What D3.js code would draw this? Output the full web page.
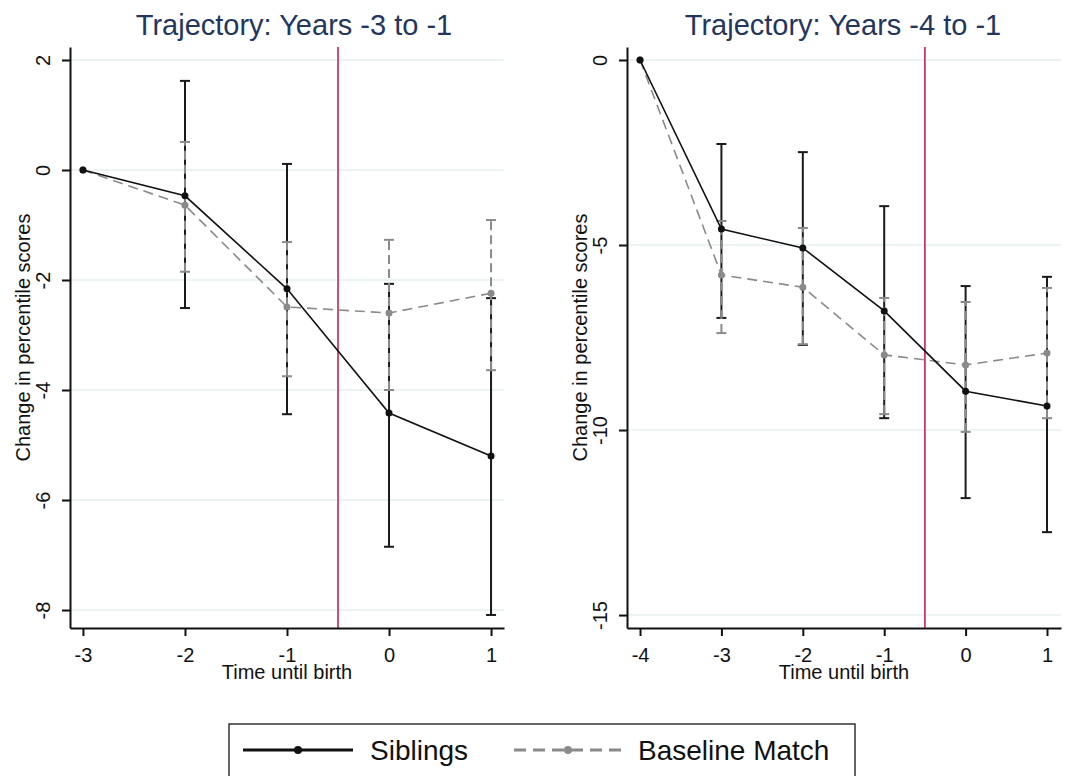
<!DOCTYPE html>
<html>
<head>
<meta charset="utf-8">
<script src="https://cdn.jsdelivr.net/npm/d3@7"></script>
<style>
body { margin: 0; background: #fff; }
text { font-family: "Liberation Sans", Arial, sans-serif; }
</style>
</head>
<body>
<div id="chart"></div>
<script>
// values (change in percentile scores)
var timesLeft = [-3, -2, -1, 0, 1];
var sibLeft = [0, -0.47, -2.16, -4.42, -5.2];
var sibLeftLo = [null, -2.51, -4.44, -6.85, -8.09];
var sibLeftHi = [null, 1.62, 0.11, -2.07, -2.33];
var baseLeft = [0, -0.64, -2.49, -2.6, -2.24];
var baseLeftLo = [null, -1.85, -3.75, -4.0, -3.64];
var baseLeftHi = [null, 0.51, -1.31, -1.27, -0.91];

var timesRight = [-4, -3, -2, -1, 0, 1];
var sibRight = [0, -4.57, -5.08, -6.78, -8.95, -9.35];
var sibRightLo = [null, -6.97, -7.7, -9.68, -11.84, -12.76];
var sibRightHi = [null, -2.27, -2.49, -3.95, -6.11, -5.86];
var baseRight = [0, -5.81, -6.14, -7.97, -8.24, -7.92];
var baseRightLo = [null, -7.38, -7.68, -9.57, -10.05, -9.68];
var baseRightHi = [null, -4.35, -4.54, -6.43, -6.54, -6.16];

var yTicksLeft = [2, 0, -2, -4, -6, -8];
var yTicksRight = [0, -5, -10, -15];
var titles = ["Trajectory: Years -3 to -1", "Trajectory: Years -4 to -1"];
var seriesNames = ["Siblings", "Baseline Match"];
var birthLine = -0.5;

var w = 1081;
var h = 776;
var plotTop = 47;
var plotBottom = 628;

var svg = d3.select("#chart")
    .append("svg")
    .attr("width", w)
    .attr("height", h);

function rows(times, est, lo, hi) {
    return times.map(function(t, i) {
        return { t: t, v: est[i], lo: lo[i], hi: hi[i] };
    });
}

var panels = [
    {
        title: titles[0], titleX: 294,
        xDomain: [-3.127, 1.127], xRange: [70, 504], xTicks: timesLeft,
        yDomain: [-8.327, 2.236], yTicks: yTicksLeft,
        sib: rows(timesLeft, sibLeft, sibLeftLo, sibLeftHi),
        base: rows(timesLeft, baseLeft, baseLeftLo, baseLeftHi)
    },
    {
        title: titles[1], titleX: 843,
        xDomain: [-4.16, 1.172], xRange: [627, 1061], xTicks: timesRight,
        yDomain: [-15.35, 0.351], yTicks: yTicksRight,
        sib: rows(timesRight, sibRight, sibRightLo, sibRightHi),
        base: rows(timesRight, baseRight, baseRightLo, baseRightHi)
    }
];

panels.forEach(function(p) {
    var x = d3.scaleLinear().domain(p.xDomain).range(p.xRange);
    var y = d3.scaleLinear().domain(p.yDomain).range([plotBottom, plotTop]);
    var g = svg.append("g");

    // gridlines
    g.selectAll(".grid")
        .data(p.yTicks)
        .enter()
        .append("line")
        .attr("x1", p.xRange[0])
        .attr("x2", p.xRange[1])
        .attr("y1", function(d) { return y(d); })
        .attr("y2", function(d) { return y(d); })
        .attr("stroke", "#e6eff0")
        .attr("stroke-width", 1.5);

    // birth line
    g.append("line")
        .attr("x1", x(birthLine))
        .attr("x2", x(birthLine))
        .attr("y1", plotTop)
        .attr("y2", plotBottom)
        .attr("stroke", "#c8224c")
        .attr("stroke-width", 1.6);

    // error bars
    function bars(data, color, dash, width) {
        var ci = data.filter(function(d) { return d.lo !== null; });
        g.selectAll(null)
            .data(ci)
            .enter()
            .append("line")
            .attr("x1", function(d) { return x(d.t); })
            .attr("x2", function(d) { return x(d.t); })
            .attr("y1", function(d) { return y(d.lo); })
            .attr("y2", function(d) { return y(d.hi); })
            .attr("stroke", color)
            .attr("stroke-width", width)
            .attr("stroke-dasharray", dash);
        ["lo", "hi"].forEach(function(k) {
            g.selectAll(null)
                .data(ci)
                .enter()
                .append("line")
                .attr("x1", function(d) { return x(d.t) - 5; })
                .attr("x2", function(d) { return x(d.t) + 5; })
                .attr("y1", function(d) { return y(d[k]); })
                .attr("y2", function(d) { return y(d[k]); })
                .attr("stroke", color)
                .attr("stroke-width", width);
        });
    }
    bars(p.sib, "#1a1a1a", null, 2);
    bars(p.base, "#8a8a8a", "9,5", 2);

    var line = d3.line()
        .x(function(d) { return x(d.t); })
        .y(function(d) { return y(d.v); });

    g.append("path")
        .datum(p.base)
        .attr("d", line)
        .attr("fill", "none")
        .attr("stroke", "#8a8a8a")
        .attr("stroke-width", 1.6)
        .attr("stroke-dasharray", "10,6");

    g.selectAll(null)
        .data(p.base)
        .enter()
        .append("circle")
        .attr("cx", function(d) { return x(d.t); })
        .attr("cy", function(d) { return y(d.v); })
        .attr("r", 3.5)
        .attr("fill", "#8a8a8a");

    g.append("path")
        .datum(p.sib)
        .attr("d", line)
        .attr("fill", "none")
        .attr("stroke", "#111")
        .attr("stroke-width", 1.6);

    g.selectAll(null)
        .data(p.sib)
        .enter()
        .append("circle")
        .attr("cx", function(d) { return x(d.t); })
        .attr("cy", function(d) { return y(d.v); })
        .attr("r", 3.5)
        .attr("fill", "#111");

    // axes
    var yAxis = d3.axisLeft(y)
        .tickValues(p.yTicks)
        .tickSize(8)
        .tickSizeOuter(0)
        .tickFormat(function(d) { return String(d); });
    var ya = g.append("g")
        .attr("transform", "translate(" + p.xRange[0] + ",0)")
        .call(yAxis);
    ya.selectAll("text")
        .attr("x", null)
        .attr("dy", null)
        .attr("transform", "translate(-20,0) rotate(-90)")
        .attr("text-anchor", "middle")
        .attr("font-size", 20)
        .attr("fill", "#111");

    var xAxis = d3.axisBottom(x)
        .tickValues(p.xTicks)
        .tickSize(8)
        .tickSizeOuter(0)
        .tickPadding(12)
        .tickFormat(function(d) { return String(d); });
    var xa = g.append("g")
        .attr("transform", "translate(0," + plotBottom + ")")
        .call(xAxis);
    xa.selectAll("text")
        .attr("font-size", 20)
        .attr("fill", "#111");

    [ya, xa].forEach(function(a) {
        a.select(".domain").attr("stroke", "#111").attr("stroke-width", 2);
        a.selectAll(".tick line").attr("stroke", "#111").attr("stroke-width", 2);
        a.attr("font-family", null);
    });

    // labels
    g.append("text")
        .attr("x", p.titleX)
        .attr("y", 35)
        .attr("text-anchor", "middle")
        .attr("font-size", 29)
        .attr("fill", "#23375e")
        .text(p.title);

    g.append("text")
        .attr("x", (p.xRange[0] + p.xRange[1]) / 2)
        .attr("y", 679)
        .attr("text-anchor", "middle")
        .attr("font-size", 20)
        .attr("fill", "#111")
        .text("Time until birth");

    g.append("text")
        .attr("transform", "translate(" + (p.xRange[0] - 40) + "," + ((plotTop + plotBottom) / 2) + ") rotate(-90)")
        .attr("text-anchor", "middle")
        .attr("font-size", 20)
        .attr("fill", "#111")
        .text("Change in percentile scores");
});

// legend
var legend = svg.append("g");
legend.append("rect")
    .attr("x", 229)
    .attr("y", 724)
    .attr("width", 626)
    .attr("height", 70)
    .attr("fill", "#fff")
    .attr("stroke", "#333")
    .attr("stroke-width", 1.5);

var legendItems = [
    { name: seriesNames[0], x1: 243, x2: 353, color: "#111", dash: null, textX: 370 },
    { name: seriesNames[1], x1: 514, x2: 622, color: "#8a8a8a", dash: "12,7", textX: 638 }
];
legendItems.forEach(function(d) {
    legend.append("line")
        .attr("x1", d.x1)
        .attr("x2", d.x2)
        .attr("y1", 750)
        .attr("y2", 750)
        .attr("stroke", d.color)
        .attr("stroke-width", 3)
        .attr("stroke-dasharray", d.dash);
    legend.append("circle")
        .attr("cx", (d.x1 + d.x2) / 2)
        .attr("cy", 750)
        .attr("r", 4)
        .attr("fill", d.color);
    legend.append("text")
        .attr("x", d.textX)
        .attr("y", 760)
        .attr("font-size", 28)
        .attr("fill", "#111")
        .text(d.name);
});
</script>
</body>
</html>
